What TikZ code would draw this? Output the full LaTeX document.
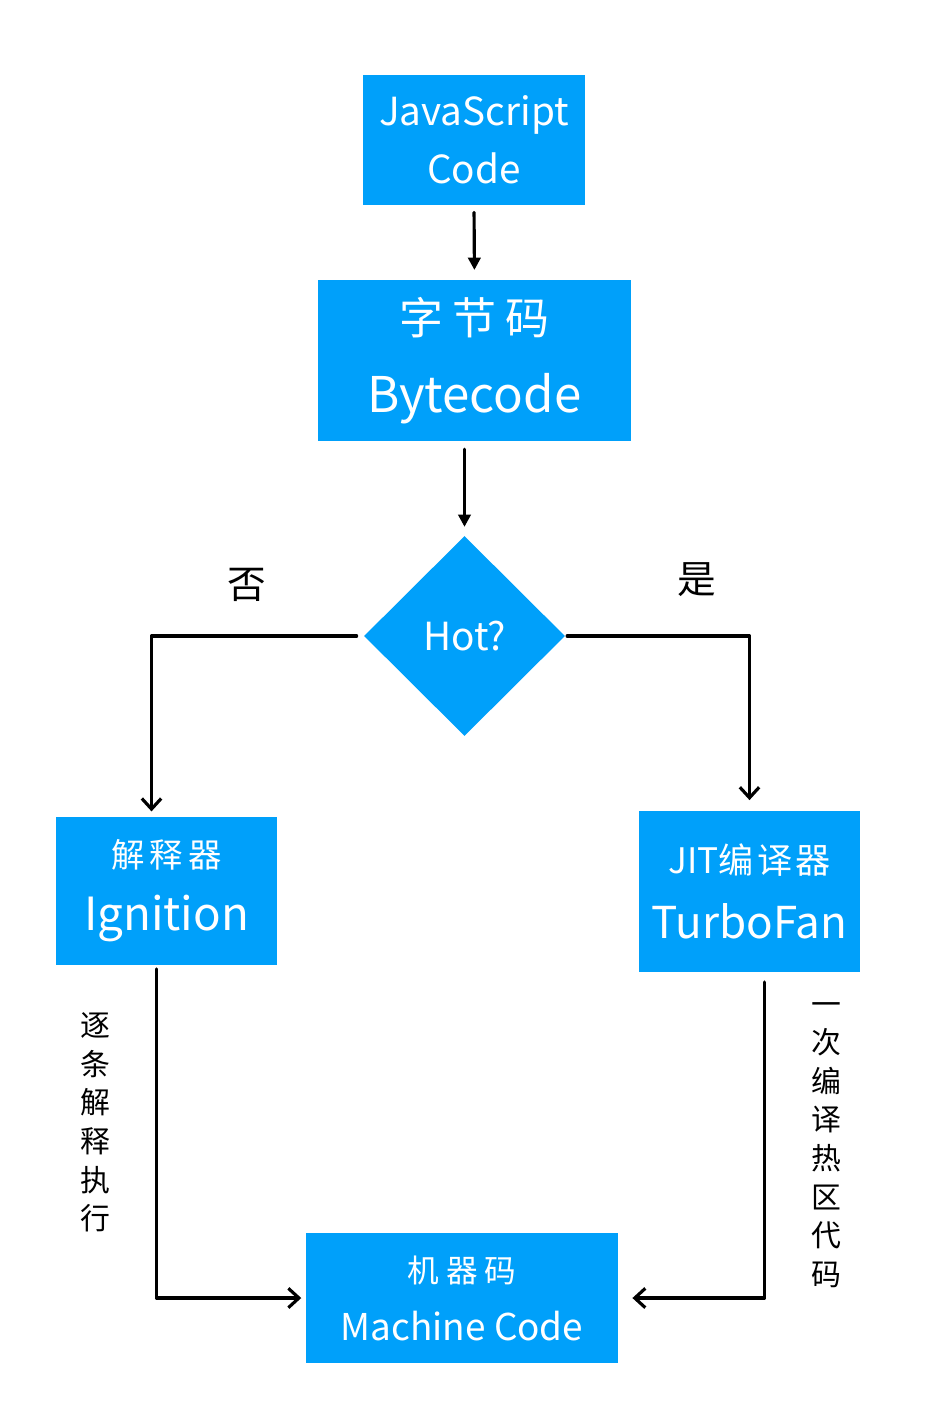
\documentclass[tikz,border=0pt]{standalone}
\usepackage{fontspec}
\setmainfont{Noto Sans CJK SC}
\usetikzlibrary{shapes.geometric,arrows.meta}
\definecolor{jsblue}{RGB}{0,160,250}
\tikzset{
  box/.style={rectangle,fill=jsblue,text=white,align=center,inner sep=0pt},
  hotbox/.style={diamond,fill=jsblue,text=white,inner sep=0pt,
    minimum width=4.02cm,minimum height=4cm},
  flow/.style={line width=1.8pt,-{Triangle[length=7pt,width=7pt]}},
  barb/.style={line width=1.8pt,-{Straight Barb[length=6pt,width=11pt,line width=1.8pt]}},
  side/.style={align=center,font=\fontsize{17}{22}\selectfont}
}
\begin{document}
\begin{tikzpicture}[line cap=round,line join=round]
  \useasboundingbox (0,0) rectangle (18.52,-28.52);
  % boxes
  \node[box,minimum width=4.44cm,minimum height=2.6cm,
    font=\fontsize{22}{33}\selectfont] (js) at (9.48,-2.80) {JavaScript\\Code};
  \node[box,minimum width=6.26cm,minimum height=3.22cm,
    font=\fontsize{28}{44}\selectfont] (bc) at (9.49,-7.21)
    {{\fontsize{25}{25}\selectfont 字\hspace{5pt}节\hspace{5pt}码}\\Bytecode};
  \node[hotbox,font=\fontsize{22}{22}\selectfont] (hot) at (9.29,-12.72) {Hot?};
  \node[box,minimum width=4.42cm,minimum height=2.96cm,
    font=\fontsize{26}{36}\selectfont] (ign) at (3.33,-17.82)
    {{\fontsize{19}{19}\selectfont 解\hspace{3pt}释\hspace{3pt}器}\\Ignition};
  \node[box,minimum width=4.42cm,minimum height=3.22cm,
    font=\fontsize{25}{37}\selectfont] (jit) at (14.99,-17.83)
    {{\fontsize{20}{20}\selectfont JIT编\hspace{2pt}译\hspace{2pt}器}\\TurboFan};
  \node[box,minimum width=6.24cm,minimum height=2.6cm,
    font=\fontsize{21}{33}\selectfont] (mc) at (9.24,-25.96)
    {{\fontsize{18}{18}\selectfont 机\hspace{4pt}器\hspace{4pt}码}\\Machine Code};
  % labels
  \node[font=\fontsize{22}{22}\selectfont] (no) at (4.94,-11.70) {否};
  \node[font=\fontsize{22}{22}\selectfont] (yes) at (13.94,-11.60) {是};
  \node[side] (ltxt) at (1.90,-22.45) {逐\\条\\解\\释\\执\\行};
  \node[side] (rtxt) at (16.52,-22.90) {一\\次\\编\\译\\热\\区\\代\\码};
  % connectors
  \draw[flow,shorten <=4pt,shorten >=5.5pt] (js.south) -- (bc.north);
  \draw[flow,shorten <=4.5pt,shorten >=5pt] (bc.south -| hot.north) -- (hot.north);
  \draw[barb,shorten <=4pt,shorten >=3pt] (hot.west) -| ([xshift=-0.30cm]ign.north);
  \draw[barb,shorten <=1pt,shorten >=6pt] (hot.east) -| (jit.north);
  \draw[barb,shorten <=2pt,shorten >=2.5pt] ([xshift=-0.20cm]ign.south) |- (mc.west);
  \draw[barb,shorten <=5.5pt,shorten >=8pt] ([xshift=0.30cm]jit.south) |- (mc.east);
\end{tikzpicture}
\end{document}
